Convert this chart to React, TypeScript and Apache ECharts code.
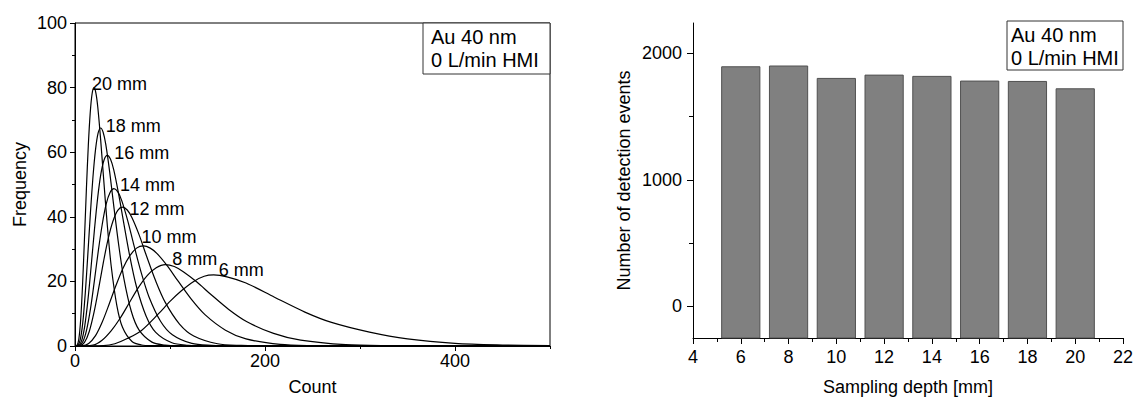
import React, { useEffect, useRef } from "react";
import * as echarts from "echarts";

// ---- Left panel: frequency distributions per sampling depth ----
const curveNames = ["20 mm", "18 mm", "16 mm", "14 mm", "12 mm", "10 mm", "8 mm", "6 mm"];
const peakCounts = [20, 27, 34, 41, 50, 72, 95, 146];
const peakFreqs = [80, 67.5, 59, 48.7, 43, 31, 25.2, 22];

const count20 = [0, 2, 4, 6, 8, 10, 12, 14, 16, 18, 20, 22, 24, 27, 30, 34, 38, 44, 50, 60, 70, 80, 500];
const freq20 = [0, 0.14, 2.1, 8.3, 19.3, 33.5, 48.6, 62, 72.1, 78.1, 80, 78.3, 73.9, 63.9, 52.3, 37.4, 25, 12.6, 5.8, 1.4, 0.3, 0.1, 0];

const count18 = [0, 2.7, 5.4, 8.1, 10.8, 13.5, 16.2, 18.9, 21.6, 24.3, 27, 29.7, 32.4, 36.5, 40.5, 45.9, 51.3, 59.4, 67.5, 81, 94.5, 108, 500];
const freq18 = [0, 0.12, 1.8, 7.0, 16.3, 28.3, 41.0, 52.3, 60.8, 65.9, 67.5, 66.1, 62.4, 53.9, 44.1, 31.5, 21.1, 10.6, 4.9, 1.2, 0.3, 0.05, 0];

const count16 = [0, 3.4, 6.8, 10.2, 13.6, 17, 20.4, 23.8, 27.2, 30.6, 34, 37.4, 40.8, 45.9, 51, 57.8, 64.6, 74.8, 85, 102, 119, 136, 500];
const freq16 = [0, 0.1, 1.5, 6.1, 14.2, 24.7, 35.8, 45.7, 53.2, 57.6, 59, 57.8, 54.5, 47.1, 38.6, 27.6, 18.5, 9.3, 4.2, 1.0, 0.24, 0.04, 0];

const count14 = [0, 4.1, 8.2, 12.3, 16.4, 20.5, 24.6, 28.7, 32.8, 36.9, 41, 45.1, 49.2, 55.4, 61.5, 69.7, 77.9, 90.2, 102.5, 123, 143.5, 164, 500];
const freq14 = [0, 0.09, 1.3, 5.1, 11.7, 20.4, 29.6, 37.7, 43.9, 47.5, 48.7, 47.7, 45.0, 38.9, 31.8, 22.7, 15.2, 7.6, 3.5, 0.8, 0.2, 0.03, 0];

const count12 = [0, 5, 10, 15, 20, 25, 30, 35, 40, 45, 50, 55, 60, 67.5, 75, 85, 95, 110, 125, 150, 175, 200, 500];
const freq12 = [0, 0.08, 1.1, 4.5, 10.4, 18.0, 26.1, 33.3, 38.7, 42.0, 43, 42.1, 39.7, 34.4, 28.1, 20.1, 13.5, 6.8, 3.1, 0.7, 0.17, 0.03, 0];

const count10 = [0, 7.2, 14.4, 21.6, 28.8, 36, 43.2, 50.4, 57.6, 64.8, 72, 79.2, 86.4, 97.2, 108, 122.4, 136.8, 158.4, 180, 216, 252, 288, 500];
const freq10 = [0, 0.06, 0.8, 3.2, 7.5, 13.0, 18.8, 24.0, 27.9, 30.3, 31, 30.3, 28.6, 24.8, 20.3, 14.5, 9.7, 4.9, 2.2, 0.5, 0.12, 0.02, 0];

const count8 = [0, 19, 28.5, 38, 47.5, 57, 66.5, 76, 85.5, 95, 104.5, 114, 128.3, 142.5, 161.5, 180.5, 209, 237.5, 285, 332.5, 380, 500];
const freq8 = [0, 0.3, 1.8, 4.7, 8.6, 13.3, 18.0, 21.8, 24.2, 25.2, 24.6, 23.0, 19.8, 16.1, 11.4, 7.6, 3.9, 1.8, 0.4, 0.1, 0.02, 0];

const count6 = [0, 30, 42, 55, 70, 88, 100, 112, 125, 136, 146, 160, 180, 210, 242, 270, 310, 350, 400, 450, 500];
const freq6 = [0, 0.1, 0.7, 2.3, 4.8, 10, 13.8, 17.1, 20, 21.6, 22, 21.4, 19.5, 15.1, 10.5, 7.3, 4.3, 2.2, 0.8, 0.3, 0.1];

const curveCounts = [count20, count18, count16, count14, count12, count10, count8, count6];
const curveFreqs = [freq20, freq18, freq16, freq14, freq12, freq10, freq8, freq6];

// ---- Right panel: detection events vs sampling depth ----
const depths = [6, 8, 10, 12, 14, 16, 18, 20];
const eventCounts = [1894, 1900, 1802, 1828, 1818, 1781, 1778, 1720];

const leftXTicks = [0, 200, 400];
const rightYTicks = [0, 1000, 2000];
const rightYMinor = [500, 1500];

const legendText = "Au 40 nm\n0 L/min HMI";

// styling (not data)
const labelOffsets = [[-2, -4], [5, -2], [7, -2], [6, -4], [7, 2], [-2, -9], [7, -6], [5, -5]];
const FONT = "Liberation Sans";
const BAR_HALF = 0.8;
const Y_MIN_R = -250;
const Y_MAX_R = 2240;

function buildOption(): any {
  const axisLine = { show: true, onZero: false, lineStyle: { color: "#000", width: 1 } };
  const lineSeries = curveNames.map((name, i) => ({
    type: "line",
    name,
    xAxisIndex: 0,
    yAxisIndex: 0,
    data: curveCounts[i].map((c, j) => [c, curveFreqs[i][j]]),
    showSymbol: false,
    symbol: "none",
    smooth: 0.3,
    lineStyle: { color: "#000", width: 1.2 },
    z: 3,
    markPoint: {
      symbol: "circle",
      symbolSize: 0,
      silent: true,
      data: [{ coord: [peakCounts[i], peakFreqs[i]] }],
      label: {
        show: true,
        formatter: name,
        position: "right",
        distance: 0,
        offset: labelOffsets[i],
        fontFamily: FONT,
        fontSize: 18,
        color: "#000",
      },
    },
  }));

  return {
    animation: false,
    backgroundColor: "#fff",
    textStyle: { fontFamily: FONT, color: "#000" },
    grid: [
      { left: 75, top: 23, width: 475, height: 323, outerBoundsMode: "none", containLabel: false, show: true, borderColor: "#000", borderWidth: 1, backgroundColor: "transparent" },
      { left: 693, top: 23, width: 430, height: 315, outerBoundsMode: "none", containLabel: false, show: false },
    ],
    xAxis: [
      {
        gridIndex: 0, type: "value", position: "bottom", min: 0, max: 500, interval: 100,
        axisLine, axisTick: { show: true, length: 3, lineStyle: { color: "#000" } },
        axisLabel: { show: false }, splitLine: { show: false },
      },
      {
        gridIndex: 0, type: "value", position: "bottom", min: 0, max: 500,
        axisLine,
        axisTick: { show: true, length: 5, customValues: leftXTicks, lineStyle: { color: "#000" } },
        axisLabel: { show: true, customValues: leftXTicks, fontSize: 18, margin: 6, color: "#000", fontFamily: FONT },
        splitLine: { show: false },
        name: "Count", nameLocation: "middle", nameGap: 32,
        nameTextStyle: { fontSize: 18, color: "#000", fontFamily: FONT },
      },
      {
        gridIndex: 1, type: "value", position: "bottom", min: 4, max: 22, interval: 2,
        axisLine,
        axisTick: { show: true, length: 6, lineStyle: { color: "#000" } },
        minorTick: { show: true, splitNumber: 2, length: 4, lineStyle: { color: "#000" } },
        axisLabel: { show: true, fontSize: 18, margin: 10, color: "#000", fontFamily: FONT },
        splitLine: { show: false }, minorSplitLine: { show: false },
        name: "Sampling depth [mm]", nameLocation: "middle", nameGap: 40,
        nameTextStyle: { fontSize: 18, color: "#000", fontFamily: FONT },
      },
    ],
    yAxis: [
      {
        gridIndex: 0, type: "value", position: "left", min: 0, max: 100, interval: 20,
        axisLine,
        axisTick: { show: true, length: 5, lineStyle: { color: "#000" } },
        minorTick: { show: true, splitNumber: 2, length: 3, lineStyle: { color: "#000" } },
        axisLabel: { show: true, fontSize: 18, margin: 8, color: "#000", fontFamily: FONT },
        splitLine: { show: false }, minorSplitLine: { show: false },
        name: "Frequency", nameLocation: "middle", nameGap: 46, nameRotate: 90,
        nameTextStyle: { fontSize: 18, color: "#000", fontFamily: FONT },
      },
      {
        gridIndex: 1, type: "value", position: "left", min: Y_MIN_R, max: Y_MAX_R,
        axisLine,
        axisTick: { show: true, length: 6, customValues: rightYTicks, lineStyle: { color: "#000" } },
        axisLabel: {
          show: true, customValues: rightYTicks, fontSize: 18, margin: 11, color: "#000", fontFamily: FONT,
          formatter: (v: number) => String(v),
        },
        splitLine: { show: false },
        name: "Number of detection events", nameLocation: "middle", nameGap: 60, nameRotate: 90,
        nameTextStyle: { fontSize: 18, color: "#000", fontFamily: FONT },
      },
      {
        gridIndex: 1, type: "value", position: "left", offset: 0, min: Y_MIN_R, max: Y_MAX_R,
        axisLine: { show: false, onZero: false },
        axisTick: { show: true, length: 4, customValues: rightYMinor, lineStyle: { color: "#000" } },
        axisLabel: { show: false },
        splitLine: { show: false },
      },
    ],
    series: [
      ...lineSeries,
      {
        type: "custom",
        xAxisIndex: 2,
        yAxisIndex: 1,
        encode: { x: 0, y: 1 },
        data: depths.map((d, i) => [d, eventCounts[i]]),
        renderItem: (_params: any, api: any) => {
          const x = api.value(0);
          const y = api.value(1);
          const tl = api.coord([x - BAR_HALF, y]);
          const br = api.coord([x + BAR_HALF, Y_MIN_R]);
          return {
            type: "rect",
            shape: { x: tl[0], y: tl[1], width: br[0] - tl[0], height: br[1] - tl[1] },
            style: { fill: "#808080", stroke: "#505050", lineWidth: 1 },
          };
        },
        z: 2,
      },
    ],
    graphic: [
      { type: "rect", shape: { x: 423, y: 23, width: 127, height: 51 }, style: { fill: "#fff", stroke: "#333", lineWidth: 1 }, z: 100 },
      { type: "text", x: 431, y: 25, style: { text: legendText, fontSize: 20, fontFamily: FONT, lineHeight: 23, fill: "#000" }, z: 101 },
      { type: "rect", shape: { x: 1007, y: 21, width: 116, height: 49 }, style: { fill: "#fff", stroke: "#333", lineWidth: 1 }, z: 100 },
      { type: "text", x: 1011, y: 23, style: { text: legendText, fontSize: 20, fontFamily: FONT, lineHeight: 23, fill: "#000" }, z: 101 },
    ],
  };
}

export default function App() {
  const ref = useRef<HTMLDivElement>(null);
  useEffect(() => {
    if (!ref.current) return;
    const chart = echarts.init(ref.current, null, { renderer: "svg" });
    chart.setOption(buildOption());
    return () => chart.dispose();
  }, []);
  return (
    <div
      ref={ref}
      style={{ position: "absolute", left: 0, top: 0, width: 1136, height: 397, background: "#fff" }}
    />
  );
}
